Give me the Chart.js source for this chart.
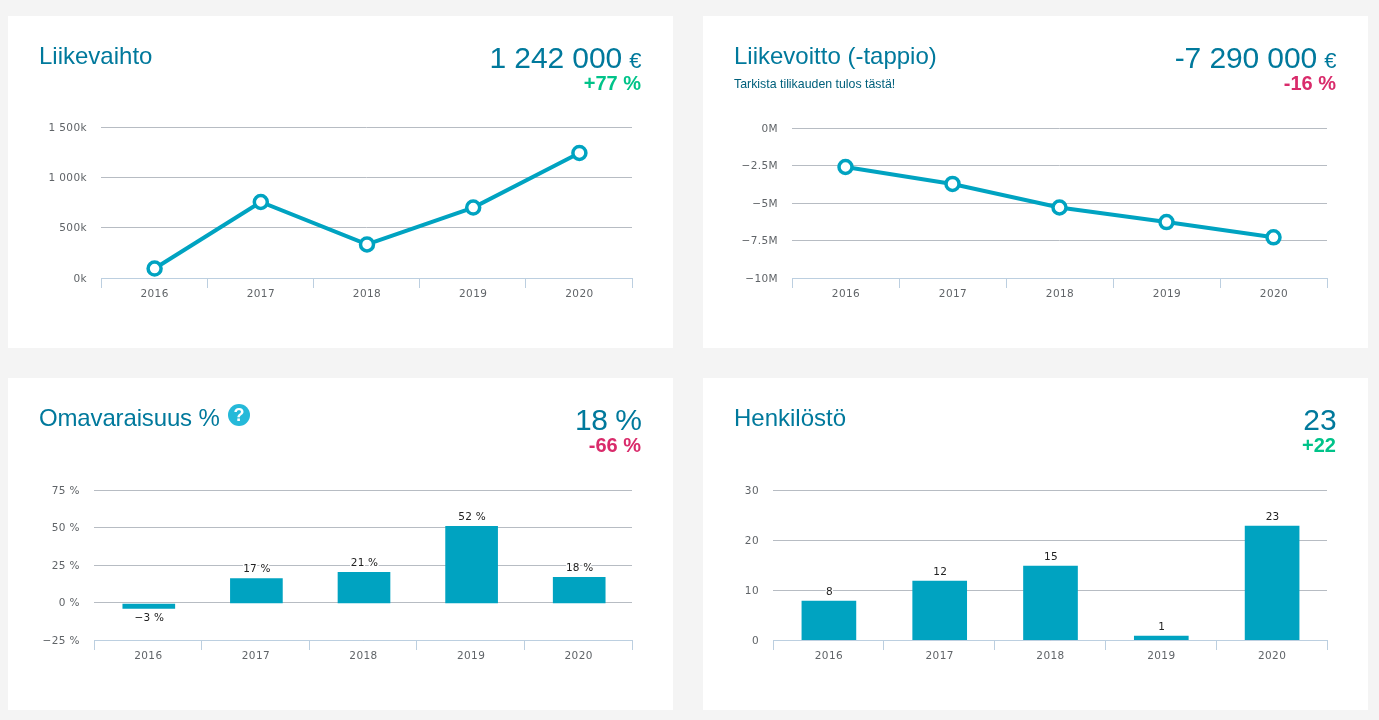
<!DOCTYPE html>
<html><head><meta charset="utf-8">
<script src="https://cdn.jsdelivr.net/npm/chart.js@4"></script>
<style>
html,body{margin:0;padding:0;background:#f4f4f4;width:1379px;height:720px;overflow:hidden;font-family:"Liberation Sans",Arial,sans-serif}
.card{position:absolute;width:665px;height:332px;background:#fff}
.card canvas{position:absolute;left:0;top:0}
.t{position:absolute;white-space:nowrap;color:#00799c}
.title{left:31px;top:25px;font-size:24px;line-height:30px}
.value{right:31.5px;top:25px;font-size:30px;line-height:34px;letter-spacing:-0.1px}
.value small{font-size:22px;margin-left:-1px}
.delta{right:32px;top:55px;font-size:20px;line-height:24px;font-weight:bold}
.up{color:#00c389}.down{color:#d92b6b}
.note{left:31px;top:61px;font-size:12.35px;line-height:14px;color:#00607c}
.help{position:absolute;left:220px;top:26px;width:22px;height:22px;border-radius:50%;background:#25b9d9;color:#fff;font-weight:bold;font-size:18px;line-height:22px;text-align:center}
</style></head><body>
<div class="card" style="left:8px;top:16px"><canvas id="c1"></canvas>
<div class="t title">Liikevaihto</div><div class="t value">1 242 000 <small>€</small></div><div class="t delta up">+77 %</div></div>
<div class="card" style="left:703px;top:16px"><canvas id="c2"></canvas>
<div class="t title">Liikevoitto (-tappio)</div><div class="t note">Tarkista tilikauden tulos tästä!</div><div class="t value">-7 290 000 <small>€</small></div><div class="t delta down">-16 %</div></div>
<div class="card" style="left:8px;top:378px"><canvas id="c3"></canvas>
<div class="t title" style="letter-spacing:-0.15px">Omavaraisuus %</div><div class="help">?</div><div class="t value" style="letter-spacing:-0.5px">18 %</div><div class="t delta down">-66 %</div></div>
<div class="card" style="left:703px;top:378px"><canvas id="c4"></canvas>
<div class="t title">Henkilöstö</div><div class="t value">23</div><div class="t delta up">+22</div></div>
<script>
const categories = ["2016","2017","2018","2019","2020"];
const turnover = [94000,755000,333000,700000,1242000];
const operatingProfit = [-2600000,-3730000,-5300000,-6270000,-7290000];
const equityRatio = [-3.2,16.6,20.8,51.5,17.5];
const personnel = [8,12,15,1,23];
const turnoverTicks = ["0k","500k","1 000k","1 500k"];
const profitTicks = ["−10M","−7.5M","−5M","−2.5M","0M"];
const equityTicks = ["−25 %","0 %","25 %","50 %","75 %"];
const personnelTicks = ["0","10","20","30"];
const equityLabels = ["−3 %","17 %","21 %","52 %","18 %"];
const personnelLabels = ["8","12","15","1","23"];

const TEAL="#00a3c1", GRID="#b7bcc3", AXIS="#bccfe0", TXT="#606468";
const FONT='"DejaVu Sans"';
const spacing={id:'spacing',beforeDraw(ch){ch.ctx.letterSpacing='0.4px'}};
const barLabels={id:'barLabels',
 beforeDatasetsDraw(ch,a,o){
  const c=ch.ctx;c.save();
  if(o.labels){c.beginPath();c.rect(0,0,ch.width,ch.chartArea.bottom);c.clip();}
  c.translate(o.shift[0],o.shift[1]);
 },
 afterDatasetsDraw(ch,a,o){
  ch.ctx.restore();
  if(!o.labels)return;
  const c=ch.ctx,m=ch.getDatasetMeta(0);
  c.save();c.font='10.5px '+FONT;c.textAlign='center';c.textBaseline='middle';
  c.letterSpacing='0.2px';c.lineJoin='round';
  m.data.forEach((b,i)=>{
    const neg=ch.data.datasets[0].data[i]<0, y=neg?b.y+10:b.y-9, x=b.x+o.shift[0]+0.5;
    c.strokeStyle='#fff';c.lineWidth=3;c.strokeText(o.labels[i],x,y+1);
    c.fillStyle='#222';c.fillText(o.labels[i],x,y+1);
  });c.restore();
}};
function make(id,cfg){
  const el=document.getElementById(id);
  new Chart(el,{
    type:cfg.type,
    data:{labels:categories,datasets:[cfg.type==='line'?{
      data:cfg.data,borderColor:TEAL,borderWidth:4,tension:0,
      pointRadius:6.5,pointHoverRadius:6.5,pointBorderWidth:3.5,pointBackgroundColor:'#fff',pointBorderColor:TEAL
    }:{data:cfg.data,backgroundColor:TEAL,barThickness:cfg.bar}]},
    options:{
      responsive:false,animation:false,devicePixelRatio:1,
      layout:{padding:{top:cfg.top,right:cfg.right,left:0,bottom:0}},
      plugins:{legend:{display:false},tooltip:{enabled:false},barLabels:{labels:cfg.labels,shift:cfg.shift||[0,0]}},
      scales:{
        x:{offset:true,
          grid:{drawOnChartArea:false,drawTicks:true,tickLength:10,color:AXIS,offset:true},
          border:{color:AXIS,width:1},
          ticks:{color:TXT,font:{family:FONT,size:10.5},padding:0,maxRotation:0,labelOffset:0.5},
          afterFit(s){s.height=cfg.bottom}},
        y:{min:cfg.min,max:cfg.max,
          grid:{color:GRID,lineWidth:1,drawTicks:false},
          border:{display:false},
          afterBuildTicks(s){s.ticks=cfg.tickVals.map(v=>({value:v}))},
          ticks:{color:TXT,font:{family:FONT,size:10.5},padding:14,labelOffset:1,
            callback:(v,i)=>cfg.ticks[i]},
          afterFit(s){s.width=cfg.left}}
      }
    },
    plugins:[spacing,barLabels]
  });
}
const W=665,H=332;
document.querySelectorAll('canvas').forEach(c=>{c.width=W;c.height=H;c.style.width=W+'px';c.style.height=H+'px'});
make('c1',{type:'line',data:turnover,ticks:turnoverTicks,tickVals:[0,500000,1000000,1500000],min:0,max:1500000,top:111,right:41,bottom:70,left:93,shift:[0.5,0]});
make('c2',{type:'line',data:operatingProfit,ticks:profitTicks,tickVals:[-10000000,-7500000,-5000000,-2500000,0],min:-10000000,max:0,top:112,right:41,bottom:70,left:89});
make('c3',{type:'bar',data:equityRatio,ticks:equityTicks,tickVals:[-25,0,25,50,75],min:-25,max:75,top:112,right:41,bottom:70,left:86,bar:52,labels:equityLabels,shift:[1,1]});
make('c4',{type:'bar',data:personnel,ticks:personnelTicks,tickVals:[0,10,20,30],min:0,max:30,top:112,right:41,bottom:70,left:70,bar:54,labels:personnelLabels,shift:[0.5,1]});
</script>
</body></html>
